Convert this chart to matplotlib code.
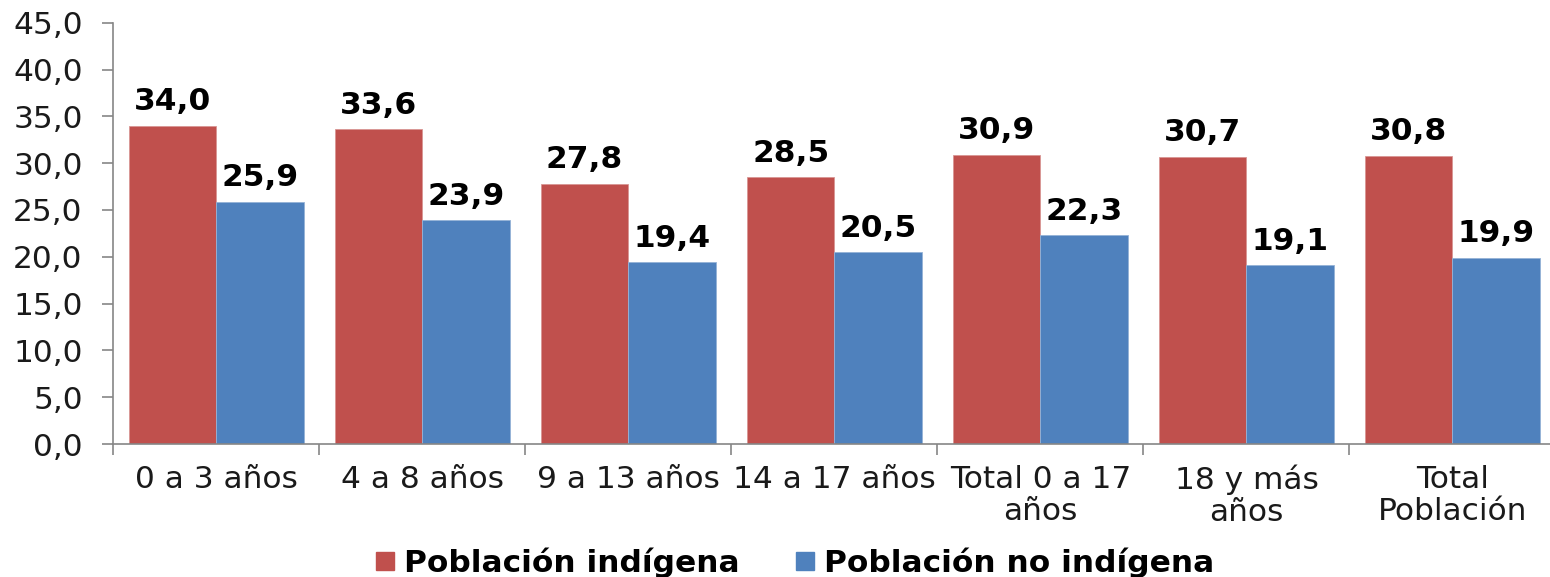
import matplotlib
matplotlib.use("Agg")
import matplotlib.pyplot as plt
from matplotlib.lines import Line2D
import numpy as np

categories = ["0 a 3 años", "4 a 8 años", "9 a 13 años", "14 a 17 años",
              "Total 0 a 17\naños", "18 y más\naños", "Total\nPoblación"]
indigena = [34.0, 33.6, 27.8, 28.5, 30.9, 30.7, 30.8]
no_indigena = [25.9, 23.9, 19.4, 20.5, 22.3, 19.1, 19.9]
series_names = ["Población indígena", "Población no indígena"]
yticks = [0, 5, 10, 15, 20, 25, 30, 35, 40, 45]

RED = "#C0504D"
BLUE = "#4F81BD"
AXC = "#868686"
FS = 22.5

plt.rcParams['font.family'] = ['DejaVu Sans']

fig = plt.figure(figsize=(15.5, 5.77), dpi=100)
ax = fig.add_axes([113.3/1550, (577-444)/577, (1555.5-113.3)/1550, (444-22.7)/577])

x = np.arange(len(categories))
w = 0.425
b1 = ax.bar(x - w/2, indigena, w, color=RED, edgecolor="#D99694", linewidth=0.6)
b2 = ax.bar(x + w/2, no_indigena, w, color=BLUE, edgecolor="#95B3D7", linewidth=0.6)

def fmt(v):
    return f"{v:.1f}".replace(".", ",")

for bars, vals in ((b1, indigena), (b2, no_indigena)):
    for rect, v in zip(bars, vals):
        ax.annotate(fmt(v), (rect.get_x() + rect.get_width()/2, v),
                    xytext=(0, 11), textcoords="offset points",
                    ha="center", va="baseline", fontsize=FS, fontweight="bold",
                    color="black")

ax.set_xlim(-0.5, len(categories) - 0.5)
ax.set_ylim(0, 45)
ax.set_yticks(yticks)
ax.set_yticklabels([fmt(v) for v in yticks], fontsize=FS, color="#1a1a1a")
ax.set_xticks(x)
ax.set_xticklabels(categories, fontsize=FS, color="#1a1a1a", linespacing=1.12)
ax.tick_params(axis="x", length=0, pad=15)
ax.set_xticks(np.arange(len(categories) + 1) - 0.5, minor=True)
ax.tick_params(axis="x", which="minor", length=8, color=AXC, width=1.2)
ax.tick_params(axis="y", length=8, color=AXC, width=1.2, pad=14)

for s in ("top", "right"):
    ax.spines[s].set_visible(False)
for s in ("left", "bottom"):
    ax.spines[s].set_color(AXC)
    ax.spines[s].set_linewidth(1.2)

handles = [Line2D([], [], marker="s", linestyle="none", markersize=13,
                  markerfacecolor=c, markeredgecolor=c) for c in (RED, BLUE)]
fig.legend(handles, series_names, loc="center", ncol=2,
           bbox_to_anchor=(794.5/1550, 14/577), frameon=False,
           prop={"size": FS, "weight": "bold"}, handlelength=0.7,
           handletextpad=0.25, columnspacing=1.75, borderpad=0, borderaxespad=0)

fig.savefig("out.png", dpi=100)
